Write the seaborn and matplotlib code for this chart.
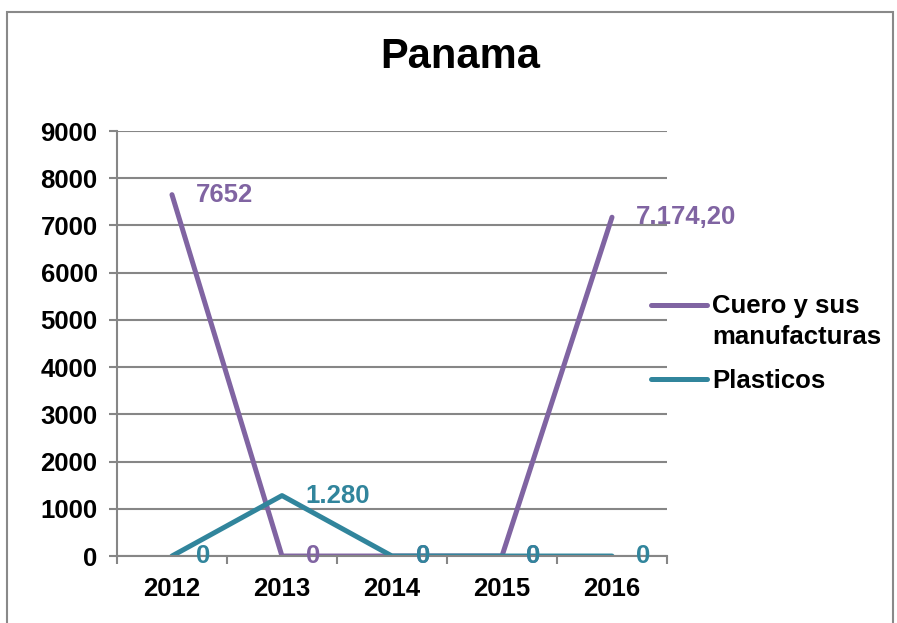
import pandas as pd
import seaborn as sns
import matplotlib.pyplot as plt
from matplotlib.patches import Rectangle

plt.switch_backend('agg')

years = ["2012", "2013", "2014", "2015", "2016"]
cuero = [7652, 0, 0, 0, 7174.2]
plasticos = [0, 1280, 0, 0, 0]
cuero_labels = ["7652", "0", "0", "0", "7.174,20"]
plasticos_labels = ["0", "1.280", "0", "0", "0"]
series_names = ["Cuero y sus\nmanufacturas", "Plasticos"]
colors = ["#8064A2", "#31859C"]
y_ticks = list(range(0, 9001, 1000))

sns.set_theme(style="white")
plt.rcParams['font.family'] = ['Liberation Sans', 'DejaVu Sans']
plt.rcParams['font.weight'] = 'bold'
plt.rcParams['text.color'] = 'black'

df = pd.DataFrame({
    "x": list(range(len(years))) * 2,
    "value": cuero + plasticos,
    "serie": [series_names[0]] * len(years) + [series_names[1]] * len(years),
})

fig = plt.figure(figsize=(8.97, 6.23), dpi=100)
ax = fig.add_axes([0.1304, 0.1075, 0.6132, 0.6822])

sns.lineplot(data=df, x="x", y="value", hue="serie", palette=colors, ax=ax,
             linewidth=3.6, legend=True, solid_capstyle='round')

# data labels, to the right of each point
for vals, labels, color in [(cuero, cuero_labels, colors[0]), (plasticos, plasticos_labels, colors[1])]:
    for i, (v, lab) in enumerate(zip(vals, labels)):
        ax.annotate(lab, xy=(i, v), xytext=(17, 0), textcoords='offset points',
                    ha='left', va='center', color=color, fontsize=18.5, fontweight='bold')

ax.set_xlim(-0.5, len(years) - 0.5)
ax.set_ylim(0, 9000)
ax.set_yticks(y_ticks)
ax.set_yticklabels([str(t) for t in y_ticks])
ax.set_xticks(range(len(years)))
ax.set_xticklabels(years)
ax.set_xticks([i - 0.5 for i in range(len(years) + 1)], minor=True)
ax.tick_params(axis='x', which='major', length=0, pad=15, labelsize=18.5)
ax.tick_params(axis='x', which='minor', length=6, width=1.5, color='#868686', direction='out', bottom=True)
ax.tick_params(axis='y', which='major', length=6, width=1.5, color='#868686', direction='out',
               pad=8, labelsize=18.5, left=True)
for lab in ax.get_xticklabels() + ax.get_yticklabels():
    lab.set_fontweight('bold')
    lab.set_color('black')

ax.yaxis.grid(True, color='#868686', linewidth=1.5)
ax.set_axisbelow(True)
for side in ['top', 'right']:
    ax.spines[side].set_visible(False)
for side in ['left', 'bottom']:
    ax.spines[side].set_color('#868686')
    ax.spines[side].set_linewidth(1.5)
ax.set_xlabel("")
ax.set_ylabel("")

handles, labels = ax.get_legend_handles_labels()
leg = ax.legend(handles, labels, loc='upper left', bbox_to_anchor=(0.714, 0.545),
                bbox_transform=fig.transFigure, frameon=False, fontsize=18.5,
                handlelength=2.2, handletextpad=0.2, labelspacing=0.75, borderaxespad=0)
for t in leg.get_texts():
    t.set_fontweight('bold')
    t.set_color('black')
    t.set_linespacing(1.4)
# Excel puts the key next to the first line of a wrapped label
h0 = leg.legend_handles[0]
h0.set_ydata([y + 12 for y in h0.get_ydata()])
for h in leg.legend_handles:
    h.set_linewidth(3.6)

fig.text(0.513, 0.9085, "Panama", ha='center', va='center', fontsize=30, fontweight='bold', color='black')

fig.patches.append(Rectangle((7 / 897, -0.05), 886 / 897, 1.05 - 12 / 623, transform=fig.transFigure,
                             fill=False, edgecolor='#898989', linewidth=1.5))

fig.savefig("out.png", dpi=100)
